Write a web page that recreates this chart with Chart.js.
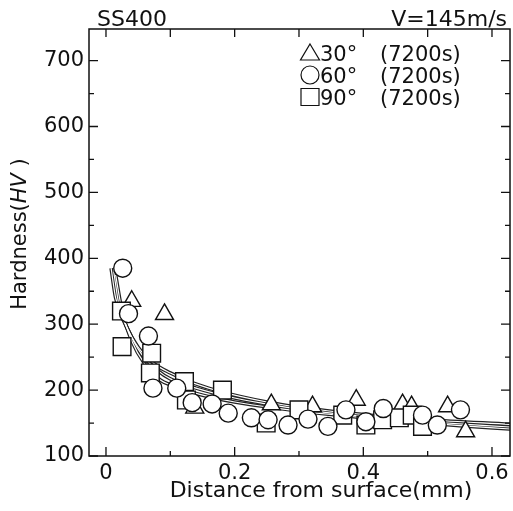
<!DOCTYPE html>
<html>
<head>
<meta charset="utf-8">
<script src="https://cdn.jsdelivr.net/npm/chart.js@4.4.0/dist/chart.umd.min.js"></script>
<style>
  body { margin: 0; background: #fff; }
  #wrap { width: 513px; height: 511px; }
</style>
</head>
<body>
<div id="wrap"><canvas id="hvChart" width="513" height="511"></canvas></div>
<script>
// tick values
const xTicks = [0, 0.2, 0.4, 0.6];
const xMinorTicks = [0.1, 0.3, 0.5];
const yTicks = [100, 200, 300, 400, 500, 600, 700];
const yMinorTicks = [150, 250, 350, 450, 550, 650];

// measured points, 30 deg
const triX = [0.040, 0.091, 0.138, 0.257, 0.321, 0.389, 0.461, 0.475, 0.531, 0.559];
const triY = [335, 315, 173, 178, 175, 185, 178, 175, 175, 137];
// 60 deg
const cirX = [0.026, 0.035, 0.066, 0.073, 0.110, 0.134, 0.165, 0.190, 0.226, 0.252, 0.283, 0.314, 0.345, 0.373, 0.404, 0.431, 0.492, 0.515, 0.551];
const cirY = [385, 316, 282, 203, 203, 181, 179, 165, 158, 155, 147, 156, 145, 170, 152, 172, 162, 147, 170];
// 90 deg
const sqX = [0.024, 0.025, 0.071, 0.069, 0.122, 0.125, 0.181, 0.249, 0.300, 0.368, 0.404, 0.430, 0.456, 0.476, 0.492];
const sqY = [320, 266, 256, 226, 213, 185, 200, 150, 170, 162, 147, 155, 158, 162, 145];

// fitted curves
const fit1X = [0.008, 0.015, 0.030, 0.050, 0.075, 0.100, 0.135, 0.170, 0.210, 0.250, 0.300, 0.400, 0.500, 0.628];
const fit1Y = [385, 340, 300, 265, 240, 226, 211, 200, 190, 182, 174, 163, 155, 148];
const fit2X = [0.012, 0.020, 0.035, 0.055, 0.080, 0.100, 0.140, 0.200, 0.250, 0.300, 0.400, 0.500, 0.628];
const fit2Y = [380, 330, 290, 255, 230, 217, 203, 188, 179, 171, 160, 152, 144];
const fit3X = [0.015, 0.025, 0.040, 0.060, 0.085, 0.100, 0.140, 0.200, 0.270, 0.350, 0.450, 0.550, 0.628];
const fit3Y = [375, 320, 275, 240, 215, 208, 195, 182, 172, 163, 154, 146, 141];

const FONT = '"DejaVu Sans", "Liberation Sans", Arial, sans-serif';

function pts(xs, ys) {
    return xs.map((v, i) => ({ x: v, y: ys[i] }));
}

function markerSet(label, xs, ys, style, radius, order) {
    return {
        label: label,
        data: pts(xs, ys),
        pointStyle: style,
        pointRadius: radius,
        pointBackgroundColor: '#fff',
        pointBorderColor: '#111',
        pointBorderWidth: 1.4,
        showLine: false,
        order: order
    };
}

// each fitted line looks like a thin ribbon: dark wide stroke + white core
function ribbon(xs, ys) {
    const base = {
        data: pts(xs, ys),
        showLine: true,
        pointRadius: 0,
        cubicInterpolationMode: 'monotone',
        fill: false
    };
    return [
        Object.assign({}, base, { label: 'fitOuter', borderColor: '#222', borderWidth: 3.6, order: 20 }),
        Object.assign({}, base, { label: 'fitInner', borderColor: '#fff', borderWidth: 1.2, order: 19 })
    ];
}

const decor = {
    id: 'decor',
    afterDraw(chart) {
        const ctx = chart.ctx;
        const a = chart.chartArea;
        const xs = chart.scales.x, ys = chart.scales.y;
        ctx.save();
        ctx.strokeStyle = '#111';
        ctx.lineWidth = 1.5;
        ctx.strokeRect(a.left, a.top, a.right - a.left, a.bottom - a.top);

        // inward ticks on all four sides
        ctx.lineWidth = 1.3;
        ctx.beginPath();
        xTicks.concat(xMinorTicks).forEach(v => {
            const px = xs.getPixelForValue(v);
            const len = xTicks.includes(v) ? 9 : 5;
            ctx.moveTo(px, a.bottom); ctx.lineTo(px, a.bottom - len);
            ctx.moveTo(px, a.top); ctx.lineTo(px, a.top + 8);
        });
        yTicks.concat(yMinorTicks).forEach(v => {
            const py = ys.getPixelForValue(v);
            const len = yTicks.includes(v) ? 9 : 5;
            ctx.moveTo(a.left, py); ctx.lineTo(a.left + len, py);
            ctx.moveTo(a.right, py); ctx.lineTo(a.right - len, py);
        });
        ctx.stroke();

        ctx.fillStyle = '#111';
        ctx.textBaseline = 'alphabetic';

        // header texts
        ctx.font = '22px ' + FONT;
        ctx.textAlign = 'left';
        ctx.fillText('SS400', 97, 26);
        ctx.textAlign = 'right';
        ctx.fillText('V=145m/s', 507, 26);

        // x title
        ctx.textAlign = 'center';
        ctx.fillText('Distance from surface(mm)', 321, 497);

        // y title with italic HV
        ctx.save();
        ctx.translate(26, 234);
        ctx.rotate(-Math.PI / 2);
        ctx.textAlign = 'left';
        const normal = '21px ' + FONT, italic = 'italic 21px ' + FONT;
        ctx.font = normal;
        const w1 = ctx.measureText('Hardness(').width;
        const w3 = ctx.measureText(' )').width;
        ctx.font = italic;
        const w2 = ctx.measureText('HV').width;
        let sx = -(w1 + w2 + w3) / 2;
        ctx.font = normal; ctx.fillText('Hardness(', sx, 0); sx += w1;
        ctx.font = italic; ctx.fillText('HV', sx, 0); sx += w2;
        ctx.font = normal; ctx.fillText(' )', sx, 0);
        ctx.restore();

        // legend
        const rows = [
            { shape: 'tri', ang: '30°', cy: 53 },
            { shape: 'cir', ang: '60°', cy: 75 },
            { shape: 'sq', ang: '90°', cy: 97 }
        ];
        ctx.lineWidth = 1.2;
        ctx.textAlign = 'left';
        ctx.font = '21px ' + FONT;
        rows.forEach(r => {
            const cx = 310;
            ctx.beginPath();
            if (r.shape === 'tri') {
                ctx.moveTo(cx, r.cy - 9);
                ctx.lineTo(cx + 9.5, r.cy + 7);
                ctx.lineTo(cx - 9.5, r.cy + 7);
                ctx.closePath();
            } else if (r.shape === 'cir') {
                ctx.arc(cx, r.cy, 9, 0, Math.PI * 2);
            } else {
                ctx.rect(cx - 9, r.cy - 8.5, 18, 17);
            }
            ctx.stroke();
            ctx.fillText(r.ang, 320, r.cy + 8);
            ctx.fillText('(7200s)', 380, r.cy + 8);
        });
        ctx.restore();
    }
};

const datasets = [].concat(
    ribbon(fit1X, fit1Y),
    ribbon(fit2X, fit2Y),
    ribbon(fit3X, fit3Y),
    [
        markerSet('30°', triX, triY, 'triangle', 10.4, 3),
        markerSet('90°', sqX, sqY, 'rect', 12.5, 2),
        markerSet('60°', cirX, cirY, 'circle', 9, 1)
    ]
);

new Chart(document.getElementById('hvChart'), {
    type: 'scatter',
    data: { datasets: datasets },
    options: {
        responsive: false,
        animation: false,
        devicePixelRatio: 1,
        layout: { autoPadding: false, padding: { top: 29, right: 3, left: 0, bottom: 0 } },
        plugins: { legend: { display: false }, tooltip: { enabled: false } },
        scales: {
            x: {
                type: 'linear',
                min: -0.0264,
                max: 0.628,
                grid: { display: false, drawTicks: false },
                border: { display: false },
                afterBuildTicks: s => { s.ticks = xTicks.map(v => ({ value: v })); },
                afterFit: s => { s.height = 55; s.paddingLeft = 0; s.paddingRight = 0; },
                ticks: {
                    padding: 5,
                    color: '#111',
                    font: { family: FONT, size: 21 },
                    maxRotation: 0,
                    callback: v => String(v)
                }
            },
            y: {
                type: 'linear',
                min: 100,
                max: 748,
                grid: { display: false, drawTicks: false },
                border: { display: false },
                afterBuildTicks: s => { s.ticks = yTicks.map(v => ({ value: v })); },
                afterFit: s => { s.width = 89; s.paddingTop = 0; s.paddingBottom = 0; },
                ticks: {
                    padding: 5,
                    color: '#111',
                    font: { family: FONT, size: 21 },
                    callback: v => String(v)
                }
            }
        }
    },
    plugins: [decor]
});
</script>
</body>
</html>
